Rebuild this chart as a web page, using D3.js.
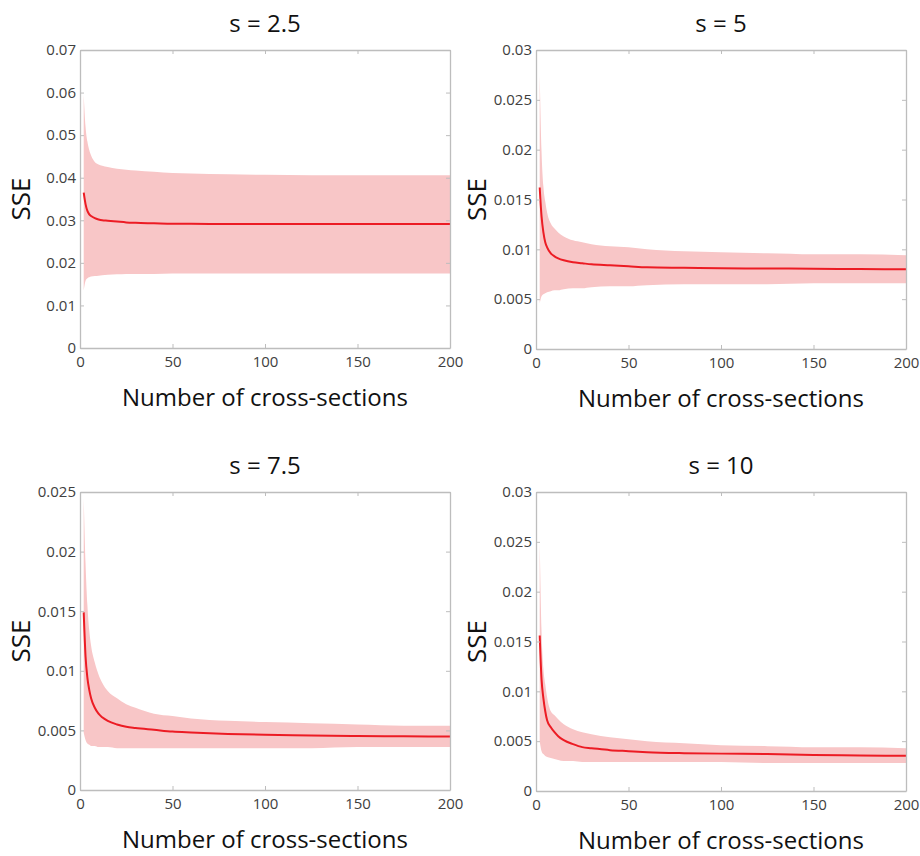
<!DOCTYPE html>
<html>
<head>
<meta charset="utf-8">
<script src="https://cdn.jsdelivr.net/npm/d3@7"></script>
<style>
  body { margin: 0; background: #fff; }
  svg { display: block; font-family: "Open Sans", sans-serif; }
  .axis path, .axis line { stroke: #bdbdbd; }
  .axis text { fill: #404040; font-size: 15px; font-family: "Open Sans", sans-serif; }
</style>
</head>
<body>
<div id="chart"></div>
<script>
// x positions (number of cross-sections) where values were read
var crossSections = [2, 3, 4, 5, 6, 8, 10, 12, 15, 20, 25, 30, 40, 50, 60, 80, 100, 125, 150, 175, 200];

var titles = ["s = 2.5", "s = 5", "s = 7.5", "s = 10"];
var xTicks = [0, 50, 100, 150, 200];

// s = 2.5
var mean25  = [0.0365, 0.0338, 0.0322, 0.0314, 0.0310, 0.0305, 0.0302, 0.0300, 0.0299, 0.0297, 0.0295, 0.0294, 0.0293, 0.0292, 0.0292, 0.0291, 0.0291, 0.0291, 0.0291, 0.0291, 0.0291];
var upper25 = [0.0595, 0.0520, 0.0485, 0.0465, 0.0452, 0.0437, 0.0431, 0.0428, 0.0425, 0.0421, 0.0419, 0.0417, 0.0414, 0.0411, 0.0410, 0.0408, 0.0407, 0.0406, 0.0406, 0.0406, 0.0406];
var lower25 = [0.0135, 0.0158, 0.0164, 0.0166, 0.0168, 0.0169, 0.0170, 0.0171, 0.0172, 0.0173, 0.0174, 0.0174, 0.0174, 0.0175, 0.0175, 0.0175, 0.0175, 0.0175, 0.0175, 0.0175, 0.0175];
var yTicks25 = [0, 0.01, 0.02, 0.03, 0.04, 0.05, 0.06, 0.07];

// s = 5
var mean5  = [0.0162, 0.0133, 0.0117, 0.0107, 0.0102, 0.0096, 0.0093, 0.0091, 0.0089, 0.0087, 0.0086, 0.0085, 0.0084, 0.0083, 0.0082, 0.00815, 0.0081, 0.00808, 0.00805, 0.00802, 0.0080];
var upper5 = [0.0275, 0.0198, 0.0163, 0.0148, 0.0137, 0.0126, 0.0121, 0.0117, 0.0113, 0.0109, 0.0107, 0.0105, 0.0103, 0.0102, 0.0100, 0.0098, 0.0097, 0.0096, 0.0095, 0.0095, 0.0094];
var lower5 = [0.0046, 0.0053, 0.0055, 0.0056, 0.0057, 0.0058, 0.0059, 0.0059, 0.0060, 0.0061, 0.0061, 0.0062, 0.0063, 0.0063, 0.0064, 0.0065, 0.0065, 0.0065, 0.0066, 0.0066, 0.0066];
var yTicks5 = [0, 0.005, 0.01, 0.015, 0.02, 0.025, 0.03];

// s = 7.5
var mean75  = [0.0149, 0.0112, 0.0094, 0.0084, 0.0077, 0.0069, 0.0064, 0.0061, 0.0058, 0.0055, 0.0053, 0.0052, 0.00505, 0.0049, 0.00482, 0.0047, 0.00463, 0.00458, 0.00453, 0.0045, 0.00448];
var upper75 = [0.0245, 0.0190, 0.0155, 0.0134, 0.0121, 0.0107, 0.0097, 0.0090, 0.0083, 0.0077, 0.0072, 0.0069, 0.0064, 0.0062, 0.0060, 0.0058, 0.0057, 0.0056, 0.0055, 0.0054, 0.0054];
var lower75 = [0.0048, 0.0042, 0.0039, 0.0038, 0.0037, 0.0037, 0.0036, 0.0036, 0.0036, 0.0035, 0.0035, 0.0035, 0.0035, 0.0035, 0.0035, 0.0035, 0.0035, 0.0035, 0.0036, 0.0036, 0.0036];
var yTicks75 = [0, 0.005, 0.01, 0.015, 0.02, 0.025];

// s = 10
var mean10  = [0.0156, 0.0112, 0.0093, 0.0080, 0.0071, 0.0064, 0.0059, 0.0055, 0.0051, 0.0047, 0.0044, 0.0043, 0.0041, 0.0040, 0.0039, 0.0038, 0.00375, 0.0037, 0.00362, 0.00357, 0.00353];
var upper10 = [0.0250, 0.0160, 0.0123, 0.0107, 0.0094, 0.0080, 0.0076, 0.0072, 0.0067, 0.0062, 0.0059, 0.0057, 0.0054, 0.0052, 0.0050, 0.0048, 0.0046, 0.0045, 0.0044, 0.0044, 0.0043];
var lower10 = [0.0050, 0.0040, 0.0037, 0.0035, 0.0034, 0.0033, 0.0032, 0.0031, 0.0030, 0.0030, 0.0029, 0.0029, 0.0029, 0.0029, 0.0029, 0.0029, 0.0029, 0.0028, 0.0028, 0.0028, 0.0028];
var yTicks10 = [0, 0.005, 0.01, 0.015, 0.02, 0.025, 0.03];

var width = 920;
var height = 856;

// plot boxes for the 2x2 grid
var panels = [
  { title: titles[0], mean: mean25, upper: upper25, lower: lower25, ticks: yTicks25, left: 80,  right: 450, top: 50,  bottom: 348 },
  { title: titles[1], mean: mean5,  upper: upper5,  lower: lower5,  ticks: yTicks5,  left: 536, right: 906, top: 50,  bottom: 349 },
  { title: titles[2], mean: mean75, upper: upper75, lower: lower75, ticks: yTicks75, left: 80,  right: 450, top: 492, bottom: 790 },
  { title: titles[3], mean: mean10, upper: upper10, lower: lower10, ticks: yTicks10, left: 536, right: 906, top: 492, bottom: 791 }
];

var svg = d3.select("#chart")
  .append("svg")
  .attr("width", width)
  .attr("height", height);

var fmt = d3.format("~g");

panels.forEach(function(p) {
  var x = d3.scaleLinear().domain([0, 200]).range([p.left, p.right]);
  var y = d3.scaleLinear().domain([0, d3.max(p.ticks)]).range([p.bottom, p.top]);

  var rows = crossSections.map(function(c, i) {
    return { n: c, m: p.mean[i], hi: p.upper[i], lo: p.lower[i] };
  });

  var g = svg.append("g");

  // shaded band
  g.append("path")
    .datum(rows)
    .attr("fill", "#f8c6c7")
    .attr("d", d3.area()
      .curve(d3.curveMonotoneX)
      .x(function(d) { return x(d.n); })
      .y0(function(d) { return y(d.lo); })
      .y1(function(d) { return y(d.hi); }));

  // mean line
  g.append("path")
    .datum(rows)
    .attr("fill", "none")
    .attr("stroke", "#ec1c24")
    .attr("stroke-width", 2)
    .attr("d", d3.line()
      .curve(d3.curveMonotoneX)
      .x(function(d) { return x(d.n); })
      .y(function(d) { return y(d.m); }));

  // axes, ticks pointing inward, box all round
  g.append("g").attr("class", "axis")
    .attr("transform", "translate(0," + p.bottom + ")")
    .call(d3.axisBottom(x).tickValues(xTicks).tickSizeInner(-4).tickSizeOuter(0).tickPadding(8).tickFormat(d3.format("d")));
  g.append("g").attr("class", "axis")
    .attr("transform", "translate(0," + p.top + ")")
    .call(d3.axisTop(x).tickValues(xTicks).tickSizeInner(-4).tickSizeOuter(0).tickFormat(""));
  g.append("g").attr("class", "axis")
    .attr("transform", "translate(" + p.left + ",0)")
    .call(d3.axisLeft(y).tickValues(p.ticks).tickSizeInner(-4).tickSizeOuter(0).tickPadding(4).tickFormat(fmt));
  g.append("g").attr("class", "axis")
    .attr("transform", "translate(" + p.right + ",0)")
    .call(d3.axisRight(y).tickValues(p.ticks).tickSizeInner(-4).tickSizeOuter(0).tickFormat(""));

  g.selectAll(".axis .domain").attr("stroke-width", 1.3);

  // title
  g.append("text")
    .attr("x", (p.left + p.right) / 2)
    .attr("y", p.top - 18)
    .attr("text-anchor", "middle")
    .attr("font-size", 24)
    .attr("fill", "#111")
    .text(p.title);

  // x label
  g.append("text")
    .attr("x", (p.left + p.right) / 2)
    .attr("y", p.bottom + 58)
    .attr("text-anchor", "middle")
    .attr("font-size", 24)
    .attr("fill", "#111")
    .text("Number of cross-sections");

  // y label
  g.append("text")
    .attr("transform", "translate(" + (p.left - 50) + "," + ((p.top + p.bottom) / 2) + ") rotate(-90)")
    .attr("text-anchor", "middle")
    .attr("font-size", 26)
    .attr("fill", "#111")
    .text("SSE");
});
</script>
</body>
</html>
